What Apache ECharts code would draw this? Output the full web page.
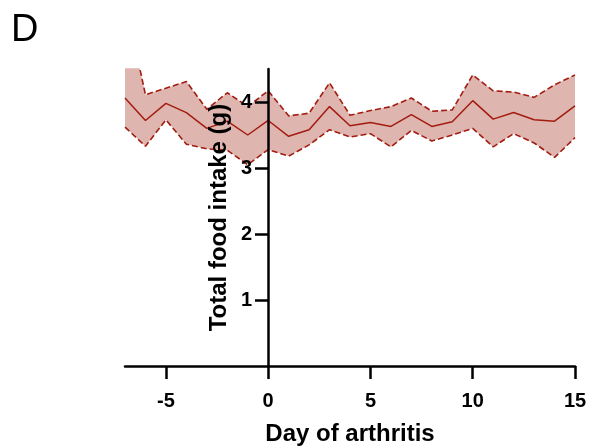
<!DOCTYPE html>
<html>
<head>
<meta charset="utf-8">
<script src="https://cdn.jsdelivr.net/npm/echarts@6/dist/echarts.min.js"></script>
<style>
html,body{margin:0;padding:0;background:#fff;}
#chart{width:590px;height:448px;}
</style>
</head>
<body>
<div id="chart"></div>
<script>
var days = [-7,-6,-5,-4,-3,-2,-1,0,1,2,3,4,5,6,7,8,9,10,11,12,13,14,15];
var meanVals  = [4.06,3.72,3.98,3.84,3.60,3.71,3.50,3.72,3.48,3.58,3.93,3.64,3.69,3.63,3.81,3.63,3.70,4.02,3.74,3.84,3.73,3.71,3.94];
var upperVals = [5.55,4.11,4.21,4.31,3.89,4.14,3.93,4.17,3.79,3.83,4.29,3.80,3.87,3.93,4.06,3.86,3.88,4.41,4.17,4.15,4.07,4.26,4.41];
var lowerVals = [3.62,3.33,3.73,3.36,3.29,3.27,3.05,3.28,3.18,3.35,3.58,3.47,3.52,3.32,3.57,3.41,3.50,3.60,3.32,3.52,3.38,3.16,3.46];
var xTicks = [-5,0,5,10,15];
var yTicks = [1,2,3,4];

var FONT = 'Liberation Sans, Arial, Helvetica, sans-serif';
var lineColor = '#a31c10';
var fillColor = '#dfb5b0';

var chart = echarts.init(document.getElementById('chart'), null, {renderer:'canvas'});
chart.setOption({
  animation: false,
  backgroundColor: '#fff',
  title: {
    text: 'D', left: 6, top: 7,
    textStyle: {fontFamily: FONT, fontSize: 38, fontWeight: 'normal', color: '#000'}
  },
  grid: {left: 125, right: 15, top: 69, bottom: 82, containLabel: false, outerBoundsMode: 'none'},
  xAxis: {
    type: 'value', min: -7, max: 15, z: 10,
    name: 'Day of arthritis', nameLocation: 'middle', nameGap: 56, nameMoveOverlap: false,
    nameTextStyle: {fontFamily: FONT, fontSize: 24, fontWeight: 'bold', color: '#000'},
    axisLine: {onZero: false, lineStyle: {color: '#000', width: 2.5}},
    axisTick: {customValues: xTicks, length: 13, lineStyle: {color: '#000', width: 2.5}},
    axisLabel: {customValues: xTicks, margin: 25, fontFamily: FONT, fontSize: 20, fontWeight: 'bold', color: '#000'},
    splitLine: {show: false}
  },
  yAxis: {
    type: 'value', min: 0, max: 4.5, z: 10, position: 'left', offset: -143,
    name: 'Total food intake (g)', nameLocation: 'middle', nameGap: 37, nameMoveOverlap: false,
    nameTextStyle: {fontFamily: FONT, fontSize: 24, fontWeight: 'bold', color: '#000'},
    axisLine: {onZero: false, lineStyle: {color: '#000', width: 2.5}},
    axisTick: {customValues: yTicks, length: 13, lineStyle: {color: '#000', width: 2.5}},
    axisLabel: {customValues: yTicks, margin: 16, fontFamily: FONT, fontSize: 20, fontWeight: 'bold', color: '#000'},
    splitLine: {show: false}
  },
  series: [
    {
      name: 'upper', type: 'line', symbol: 'none', clip: true,
      data: days.map(function(d, i){ return [d, upperVals[i]]; }),
      lineStyle: {color: lineColor, width: 1.6, type: [6, 3]},
      areaStyle: {color: fillColor, opacity: 1},
      z: 2
    },
    {
      name: 'lower', type: 'line', symbol: 'none', clip: true,
      data: days.map(function(d, i){ return [d, lowerVals[i]]; }),
      lineStyle: {color: lineColor, width: 1.6, type: [6, 3]},
      areaStyle: {color: '#ffffff', opacity: 1},
      z: 3
    },
    {
      name: 'mean', type: 'line', symbol: 'none', clip: true,
      data: days.map(function(d, i){ return [d, meanVals[i]]; }),
      lineStyle: {color: lineColor, width: 1.5},
      z: 4
    }
  ]
});
</script>
</body>
</html>
